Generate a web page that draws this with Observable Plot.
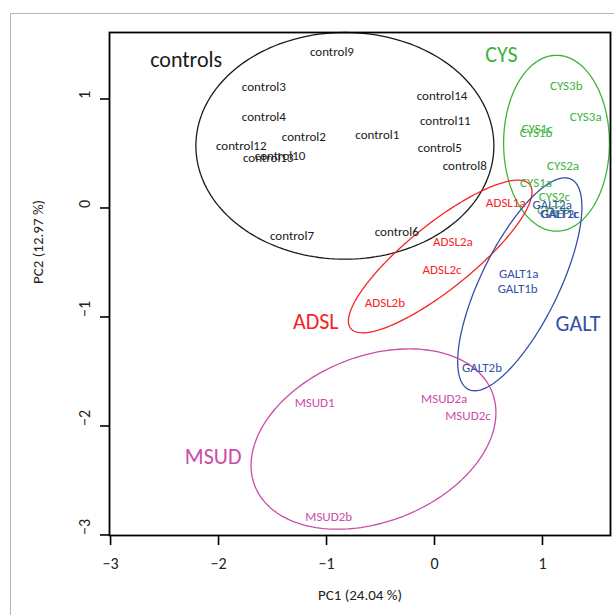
<!DOCTYPE html>
<html><head><meta charset="utf-8">
<script src="https://cdn.jsdelivr.net/npm/d3@7"></script>
<script src="https://cdn.jsdelivr.net/npm/@observablehq/plot@0.6"></script>
<style>
html,body{margin:0;padding:0;background:#fff;overflow:hidden;}
#wrap{position:relative;width:614px;height:615px;}
#border{position:absolute;left:10px;top:13px;width:700px;height:700px;border-left:1.5px solid #b4b4b4;border-top:1.5px solid #b4b4b4;pointer-events:none;}
svg{font-family:Carlito,Calibri,Lato,sans-serif;}
</style></head><body><div id="wrap"><div id="border"></div></div>
<script>
// Sample scores (PC1, PC2)
const sampleNames = ["control9","control3","control4","control2","control1","control12","control10","control13","control7","control6","control14","control11","control5","control8",
  "CYS3b","CYS3a","CYS1c","CYS1b","CYS2a","CYS1a","CYS2c","CYS2b",
  "ADSL1a","ADSL2a","ADSL2c","ADSL2b",
  "GALT2a","GALT1c","GALT2c","GALT1a","GALT1b","GALT2b",
  "MSUD1","MSUD2a","MSUD2c","MSUD2b"];
const samplePC1 = [-0.95,-1.58,-1.58,-1.21,-0.53,-1.79,-1.43,-1.54,-1.32,-0.35,0.07,0.10,0.05,0.28,
  1.22,1.40,0.95,0.94,1.19,0.94,1.11,1.10,
  0.66,0.17,0.07,-0.46,
  1.09,1.155,1.165,0.78,0.77,0.44,
  -1.11,0.09,0.31,-0.98];
const samplePC2 = [1.43,1.11,0.84,0.65,0.67,0.57,0.48,0.46,-0.26,-0.22,1.03,0.80,0.55,0.39,
  1.12,0.84,0.73,0.69,0.39,0.23,0.10,-0.02,
  0.05,-0.31,-0.57,-0.87,
  0.03,-0.05,-0.055,-0.60,-0.74,-1.47,
  -1.79,-1.75,-1.91,-2.83];
const sampleGroup = Array(14).fill("controls")
  .concat(Array(8).fill("CYS"), Array(4).fill("ADSL"), Array(6).fill("GALT"), Array(4).fill("MSUD"));

// Groups
const groupNames = ["controls","CYS","ADSL","GALT","MSUD"];
const groupColors = ["#1a1a1a","#3cb43c","#f52525","#3550a8","#c94ca8"];
const groupLabelX = [-2.30,0.62,-1.10,1.33,-2.05];
const groupLabelY = [1.36,1.40,-1.05,-1.06,-2.28];
// Ellipse parameters: centre, semi-axes, rotation (degrees)
const ellCX = [-0.83,1.13,0.053,0.79,-0.565];
const ellCY = [0.57,0.594,-0.445,-0.70,-2.12];
const ellA = [1.38,0.49,1.06,1.075,1.18];
const ellB = [1.04,0.807,0.30,0.36,0.76];
const ellRot = [0,0,38.5,63.7,21.2];

const xTicks = [-3,-2,-1,0,1];
const yTicks = [-3,-2,-1,0,1];

const fmt = d3.format("d");
const colorOf = Object.fromEntries(groupNames.map((g,i)=>[g,groupColors[i]]));
const samples = sampleNames.map((n,i)=>({name:n,x:samplePC1[i],y:samplePC2[i],group:sampleGroup[i]}));
const groups = groupNames.map((g,i)=>({name:g,x:groupLabelX[i],y:groupLabelY[i]}));
const ellPts = [];
groupNames.forEach((g,i)=>{
  const th = ellRot[i]*Math.PI/180;
  for (let k=0;k<=360;k+=2){
    const t = k*Math.PI/180;
    ellPts.push({group:g,
      x: ellCX[i] + ellA[i]*Math.cos(t)*Math.cos(th) - ellB[i]*Math.sin(t)*Math.sin(th),
      y: ellCY[i] + ellA[i]*Math.cos(t)*Math.sin(th) + ellB[i]*Math.sin(t)*Math.cos(th)});
  }
});

const chart = Plot.plot({
  width:614, height:615,
  marginLeft:109, marginRight:4, marginTop:32, marginBottom:80,
  style:{fontFamily:"Carlito,Calibri,Lato,sans-serif", background:"transparent"},
  x:{domain:[-3.01,1.63]},
  y:{domain:[-3.005,1.61]},
  marks:[
    Plot.line(ellPts,{x:"x",y:"y",z:"group",stroke:d=>colorOf[d.group],strokeWidth:1.3}),
    Plot.text(samples,{x:"x",y:"y",text:"name",fill:d=>colorOf[d.group],fontSize:13}),
    Plot.text(groups,{x:"x",y:"y",text:"name",fill:d=>colorOf[d.name],fontSize:22}),
    Plot.frame({stroke:"#000",strokeWidth:1.8}),
    Plot.axisX({ticks:xTicks,tickSize:10,tickPadding:12,fontSize:16,label:null,stroke:"#000",strokeWidth:1.6,color:"#222",tickFormat:fmt}),
    Plot.axisY({ticks:yTicks,tickSize:9,tickFormat:()=>"",label:null,stroke:"#000",strokeWidth:1.6}),
    Plot.text(yTicks,{y:d=>d,text:d=>fmt(d),frameAnchor:"left",dx:-25,rotate:-90,fontSize:16,fill:"#222"}),
    Plot.text(["PC1 (24.04 %)"],{text:d=>d,frameAnchor:"bottom",dy:64,fontSize:15,fill:"#222"}),
    Plot.text(["PC2 (12.97 %)"],{text:d=>d,frameAnchor:"left",dx:-71,rotate:-90,fontSize:15,fill:"#222"})
  ]
});
document.getElementById("wrap").prepend(chart);
</script></body></html>
